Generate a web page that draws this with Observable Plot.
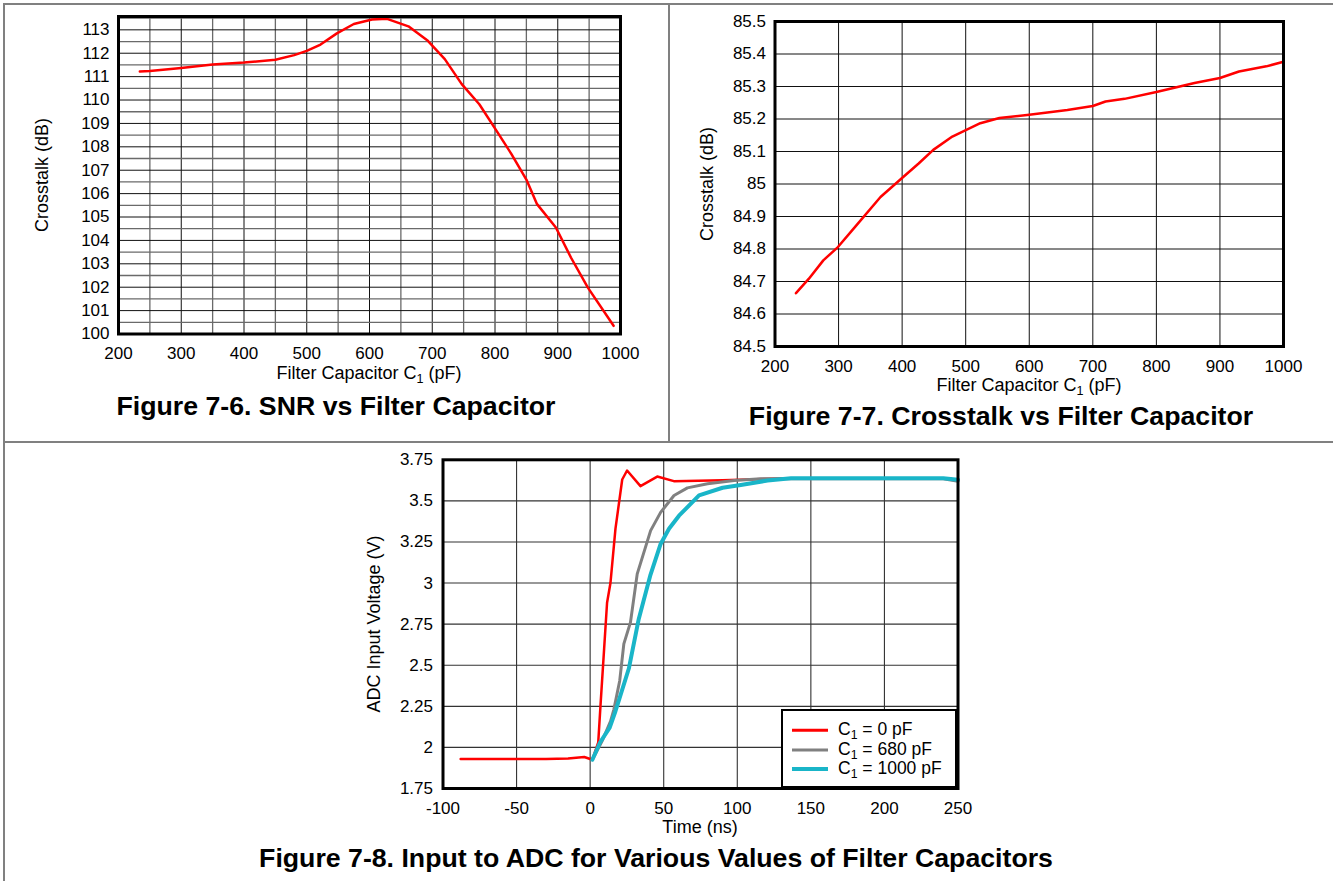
<!DOCTYPE html>
<html><head><meta charset="utf-8">
<script src="https://cdn.jsdelivr.net/npm/d3@7"></script>
<script src="https://cdn.jsdelivr.net/npm/@observablehq/plot@0.6"></script>
<style>
html,body{margin:0;padding:0;background:#fff;}
body{width:1333px;height:881px;position:relative;overflow:hidden;font-family:"Liberation Sans",Arial,sans-serif;color:#000;}
.wrap{position:absolute;}
.wrap svg{max-width:none !important;}
.lbl{position:absolute;white-space:nowrap;line-height:1;transform:translate(-50%,-50%);z-index:4;}
.rot{transform:translate(-50%,-50%) rotate(-90deg);}
.ttl{font-weight:bold;font-size:26.7px;}
.axl{font-size:18px;}
sub{font-size:70%;vertical-align:-0.3em;line-height:0;}
.bord{position:absolute;background:#808080;z-index:6;}
#legend{position:absolute;left:781px;top:709px;width:172px;height:75px;border:2.5px solid #000;background:#fff;z-index:5;}
.lg{position:absolute;left:0;height:18px;width:170px;}
.sw{position:absolute;left:9px;width:36px;top:50%;transform:translateY(-50%);}
.lt{position:absolute;left:55px;top:50%;transform:translateY(-50%);font-size:17.5px;white-space:nowrap;line-height:1;}
</style></head><body>
<script>
// ---------- Figure 7-6 : SNR vs filter capacitor ----------
const snrCap = [234, 250, 300, 350, 400, 450, 480, 500, 522, 548, 575, 604, 628, 662, 693, 720, 747, 775, 802, 826, 850, 867, 897, 921, 948, 989];
const snrDb  = [111.22, 111.24, 111.37, 111.52, 111.6, 111.72, 111.92, 112.1, 112.37, 112.85, 113.25, 113.44, 113.47, 113.15, 112.53, 111.75, 110.68, 109.82, 108.7, 107.7, 106.6, 105.55, 104.55, 103.27, 101.98, 100.35];
// ---------- Figure 7-7 : Crosstalk vs filter capacitor ----------
const xtCap = [233, 253, 276, 299, 326, 366, 399, 426, 449, 479, 523, 553, 600, 660, 700, 720, 750, 800, 860, 900, 930, 973, 1000];
const xtDb  = [84.664, 84.708, 84.765, 84.806, 84.868, 84.96, 85.017, 85.063, 85.105, 85.146, 85.187, 85.203, 85.213, 85.228, 85.24, 85.254, 85.262, 85.283, 85.311, 85.326, 85.346, 85.362, 85.376];
// ---------- Figure 7-8 : ADC input step response ----------
const t0pF = [-88, -60, -30, -15, -4, 1.5, 5.5, 7, 9.5, 11.5, 13.8, 17.2, 21.8, 25.1, 34.2, 45.6, 56.9, 90, 130, 245];
const v0pF = [1.93, 1.93, 1.93, 1.933, 1.942, 1.925, 2.03, 2.25, 2.6, 2.88, 3.0, 3.33, 3.63, 3.685, 3.59, 3.648, 3.62, 3.626, 3.636, 3.636];
const t680pF = [1.5, 8.2, 13.9, 16.1, 20.1, 22.9, 27.4, 32, 41.1, 47.9, 57, 66.1, 79.8, 97.9, 116, 240, 250];
const v680pF = [1.925, 2.04, 2.16, 2.23, 2.406, 2.63, 2.761, 3.056, 3.319, 3.43, 3.533, 3.579, 3.604, 3.624, 3.634, 3.634, 3.62];
const t1000pF = [1.5, 6.7, 13.3, 17.2, 20, 26.3, 33, 41, 47.9, 53.6, 60.4, 74, 90, 102.4, 120.6, 136.5, 240, 250];
const v1000pF = [1.925, 2.03, 2.12, 2.22, 2.3, 2.48, 2.78, 3.05, 3.238, 3.33, 3.41, 3.533, 3.58, 3.597, 3.624, 3.638, 3.638, 3.628];
const seriesNames = ["C₁ = 0 pF", "C₁ = 680 pF", "C₁ = 1000 pF"];
const seriesColors = ["#ff0000", "#808080", "#19b5c8"];
const seriesWidths = [2.5, 3, 4];

// ---------- tick labels ----------
const capTicks = [200, 300, 400, 500, 600, 700, 800, 900, 1000];
const capHalfTicks = [250, 350, 450, 550, 650, 750, 850, 950];
const snrTicks = [100, 101, 102, 103, 104, 105, 106, 107, 108, 109, 110, 111, 112, 113];
const snrHalfTicks = [100.5, 101.5, 102.5, 103.5, 104.5, 105.5, 106.5, 107.5, 108.5, 109.5, 110.5, 111.5, 112.5, 113.5];
const xtTicks = [84.5, 84.6, 84.7, 84.8, 84.9, 85.0, 85.1, 85.2, 85.3, 85.4, 85.5];
const timeTicks = [-100, -50, 0, 50, 100, 150, 200, 250];
const voltTicks = [1.75, 2, 2.25, 2.5, 2.75, 3, 3.25, 3.5, 3.75];

const FONT = '"Liberation Sans", Arial, sans-serif';
const TICK_FS = 17;
const zip = (xs, ys) => xs.map((x, i) => ({x, y: ys[i]}));

function place(svg, left, top, w, h) {
  const d = document.createElement("div");
  d.className = "wrap";
  Object.assign(d.style, {left: left + "px", top: top + "px", width: w + "px", height: h + "px"});
  d.appendChild(svg);
  document.body.appendChild(d);
}
function label(html, cx, cy, cls) {
  const d = document.createElement("div");
  d.className = "lbl " + cls;
  d.innerHTML = html;
  d.style.left = cx + "px";
  d.style.top = cy + "px";
  document.body.appendChild(d);
}
function bord(l, t, w, h) {
  const d = document.createElement("div");
  d.className = "bord";
  Object.assign(d.style, {left: l + "px", top: t + "px", width: w + "px", height: h + "px"});
  document.body.appendChild(d);
}
const style = {fontFamily: FONT, fontSize: TICK_FS + "px", color: "#000", background: "transparent", overflow: "visible"};

// Chart 1
const c1 = Plot.plot({
  width: 668, height: 390,
  marginLeft: 118, marginRight: 48, marginTop: 16, marginBottom: 56.5,
  style,
  x: {domain: [200, 1000]},
  y: {domain: [100, 113.57]},
  marks: [
    Plot.ruleX(capHalfTicks, {stroke: "#6a6a6a", strokeWidth: 1.3}),
    Plot.ruleX(capTicks, {stroke: "#111", strokeWidth: 1}),
    Plot.ruleY(snrHalfTicks, {stroke: "#6a6a6a", strokeWidth: 1.3}),
    Plot.ruleY(snrTicks, {stroke: "#111", strokeWidth: 1}),
    Plot.line(zip(snrCap, snrDb), {x: "x", y: "y", stroke: "#ff0000", strokeWidth: 2.5}),
    Plot.frame({stroke: "#000", strokeWidth: 3}),
    Plot.axisX({ticks: capTicks, tickSize: 0, tickPadding: 13, label: null, tickFormat: d => String(d), fontSize: TICK_FS}),
    Plot.axisY({ticks: snrTicks, tickSize: 0, tickPadding: 9, label: null, tickFormat: d => String(d), fontSize: TICK_FS})
  ]
});
place(c1, 0, 0, 668, 390);

// Chart 2
const c2 = Plot.plot({
  width: 664, height: 400,
  marginLeft: 105.5, marginRight: 50, marginTop: 21, marginBottom: 54,
  style,
  x: {domain: [200, 1000]},
  y: {domain: [84.5, 85.5]},
  marks: [
    Plot.ruleX(capTicks, {stroke: "#111", strokeWidth: 1}),
    Plot.ruleY(xtTicks, {stroke: "#111", strokeWidth: 1}),
    Plot.line(zip(xtCap, xtDb), {x: "x", y: "y", stroke: "#ff0000", strokeWidth: 2.5}),
    Plot.frame({stroke: "#000", strokeWidth: 3}),
    Plot.axisX({ticks: capTicks, tickSize: 0, tickPadding: 13, label: null, tickFormat: d => String(d), fontSize: TICK_FS}),
    Plot.axisY({ticks: xtTicks, tickSize: 0, tickPadding: 9, label: null, tickFormat: d => String(+d.toFixed(1)), fontSize: TICK_FS})
  ]
});
place(c2, 669, 0, 664, 400);

// Chart 3
const stepData = [
  ...zip(t0pF, v0pF).map(d => ({...d, s: seriesNames[0]})),
  ...zip(t680pF, v680pF).map(d => ({...d, s: seriesNames[1]})),
  ...zip(t1000pF, v1000pF).map(d => ({...d, s: seriesNames[2]}))
];
const c3 = Plot.plot({
  width: 1333, height: 400,
  marginLeft: 442.5, marginRight: 375.5, marginTop: 17.3, marginBottom: 54,
  style,
  x: {domain: [-100, 250]},
  y: {domain: [1.75, 3.75]},
  marks: [
    Plot.ruleX(timeTicks, {stroke: "#333", strokeWidth: 1.1}),
    Plot.ruleY(voltTicks, {stroke: "#333", strokeWidth: 1.1}),
    ...seriesNames.map((n, i) => Plot.line(stepData.filter(d => d.s === n), {x: "x", y: "y", stroke: seriesColors[i], strokeWidth: seriesWidths[i]})),
    Plot.frame({stroke: "#000", strokeWidth: 3}),
    Plot.axisX({ticks: timeTicks, tickSize: 0, tickPadding: 13, label: null, tickFormat: d => String(d), fontSize: TICK_FS}),
    Plot.axisY({ticks: voltTicks, tickSize: 0, tickPadding: 10, label: null, tickFormat: d => String(d), fontSize: TICK_FS})
  ]
});
place(c3, 0, 442, 1333, 400);

// Text
label("Crosstalk (dB)", 42, 175, "axl rot");
label("Filter Capacitor C<sub>1</sub> (pF)", 369, 372.5, "axl");
label("Figure 7-6. SNR vs Filter Capacitor", 336, 405.5, "ttl");
label("Crosstalk (dB)", 707, 183.5, "axl rot");
label("Filter Capacitor C<sub>1</sub> (pF)", 1029, 385, "axl");
label("Figure 7-7. Crosstalk vs Filter Capacitor", 1001, 416, "ttl");
label("ADC Input Voltage (V)", 374, 623.5, "axl rot");
label("Time (ns)", 700, 826.5, "axl");
label("Figure 7-8. Input to ADC for Various Values of Filter Capacitors", 656, 858, "ttl");

// Legend
const lg = document.createElement("div");
lg.id = "legend";
const rowsY = [19, 38.5, 58];
seriesNames.forEach((n, i) => {
  const r = document.createElement("div");
  r.className = "lg";
  r.style.top = (rowsY[i] - 9) + "px";
  r.innerHTML = `<div class="sw" style="height:${seriesWidths[i]}px;background:${seriesColors[i]}"></div><div class="lt">${n.replace("₁", "<sub>1</sub>")}</div>`;
  lg.appendChild(r);
});
document.body.appendChild(lg);

// Panel borders
bord(3, 3, 1330, 1.5);
bord(3, 3, 1.5, 878);
bord(668, 3, 1.5, 439);
bord(3, 441, 1330, 1.5);
</script>
</body></html>
